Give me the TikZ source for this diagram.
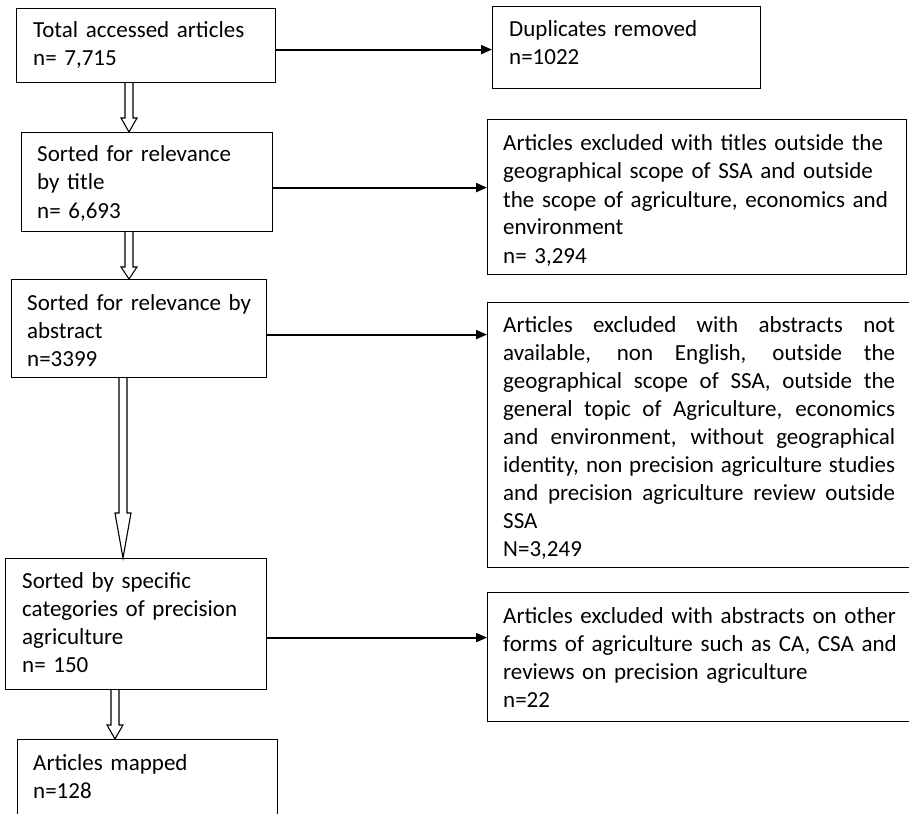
\documentclass[tikz,border=0pt]{standalone}
\usepackage{fontspec}
\setmainfont{Carlito}
\usetikzlibrary{calc,arrows.meta}
\newcommand\hollowdown[4]{%
  \draw[hollowarr] ($(#2.south -| #1)+(-4,0)$) -- ($(#3.north -| #1)+(-4,-#4)$) -- ($(#3.north -| #1)+(-8,-#4)$) -- (#3.north -| #1) -- ($(#3.north -| #1)+(8,-#4)$) -- ($(#3.north -| #1)+(4,-#4)$) -- ($(#2.south -| #1)+(4,0)$);}
\begin{document}
\begin{tikzpicture}[x=1pt,y=-1pt,
  boxst/.style={draw, line width=1.2pt, inner sep=0pt, anchor=north west},
  txt/.style={anchor=base west, inner sep=0pt, align=left, text width=400pt},
  conn/.style={line width=2pt, -{Triangle[length=11pt,width=9pt]}},
  hollowarr/.style={line width=1.1pt, line join=miter}]
\useasboundingbox (0,0) rectangle (909,813);
\clip (0,0) rectangle (909,813);
\fontsize{23}{28}\selectfont
% boxes
\node[boxst, minimum width=259pt, minimum height=74pt] (A) at (16,8) {};
\node[boxst, minimum width=268pt, minimum height=82pt] (F) at (492,6) {};
\node[boxst, minimum width=251pt, minimum height=99pt] (B) at (21,132) {};
\node[boxst, minimum width=419pt, minimum height=155pt] (G) at (487,119) {};
\node[boxst, minimum width=255pt, minimum height=98pt] (C) at (11,279) {};
\node[boxst, minimum width=460pt, minimum height=265pt] (H) at (487,302) {};
\node[boxst, minimum width=261pt, minimum height=131pt] (D) at (5,558) {};
\node[boxst, minimum width=460pt, minimum height=129pt] (I) at (487,592) {};
\node[boxst, minimum width=260pt, minimum height=100pt] (E) at (17,739) {};
% texts
\node[txt] (tA) at (33,38) {Total accessed articles\\n= 7,715};
\node[txt] (tF) at (509,37) {Duplicates removed\\n=1022};
\node[txt] (tB) at (37,162) {Sorted for relevance\\by title\\n= 6,693};
\node[txt] (tG) at (503,151) {Articles excluded with titles outside the\\geographical scope of SSA and outside\\the scope of agriculture, economics and\\environment\\n= 3,294};
\node[txt] (tC) at (27,310) {Sorted for relevance by\\abstract\\n=3399};
\node[txt, align=justify, text width=392pt] (tH) at (503,332) {Articles excluded with abstracts not\linebreak available, non English, outside the\linebreak geographical scope of SSA, outside the\linebreak general topic of Agriculture, economics\linebreak and environment, without geographical\linebreak identity, non precision agriculture studies\linebreak and precision agriculture review outside\linebreak SSA\\N=3,249};
\node[txt] (tD) at (22,588) {Sorted by specific\\categories of precision\\agriculture\\n= 150};
\node[txt] (tI) at (503,623) {Articles excluded with abstracts on other\\forms of agriculture such as CA, CSA and\\reviews on precision agriculture\\n=22};
\node[txt] (tE) at (33,770) {Articles mapped\\n=128};
% side connectors
\coordinate (sa) at ($(A.east)+(0,4)$);
\coordinate (sb) at ($(B.east)+(0,5.5)$);
\coordinate (sc) at ($(C.east)+(0,6)$);
\coordinate (sd) at ($(D.east)+(0,13.5)$);
\draw[conn] (sa) -- (sa -| F.west);
\draw[conn] (sb) -- (sb -| G.west);
\draw[conn] (sc) -- (sc -| H.west);
\draw[conn] (sd) -- (sd -| I.west);
% hollow down arrows
\coordinate (x1) at (129,0);
\coordinate (x2) at (129,0);
\coordinate (x3) at (123,0);
\coordinate (x4) at (115,0);
\hollowdown{x1}{A}{B}{14}
\hollowdown{x2}{B}{C}{12}
\hollowdown{x3}{C}{D}{45}
\hollowdown{x4}{D}{E}{14}
\end{tikzpicture}
\end{document}
